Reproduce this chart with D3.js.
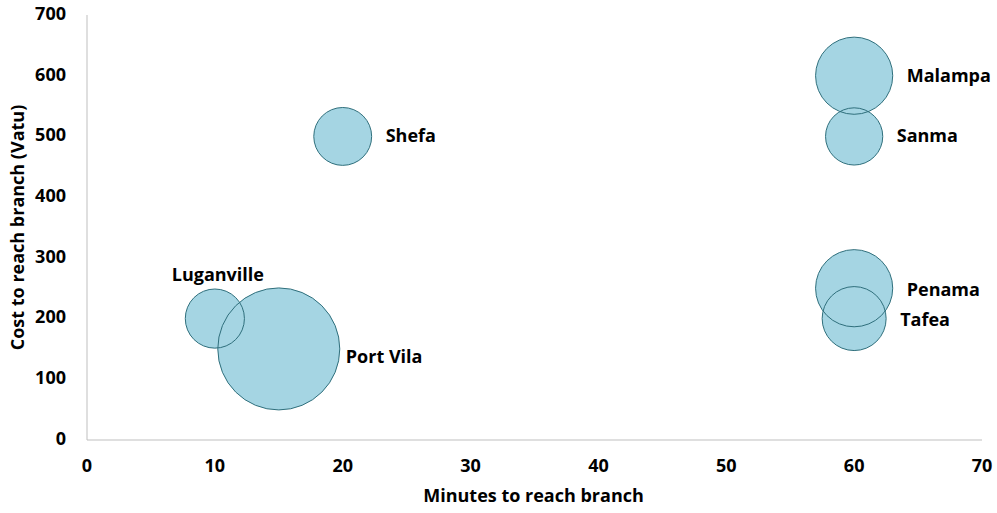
<!DOCTYPE html>
<html>
<head>
<meta charset="utf-8">
<script src="https://cdn.jsdelivr.net/npm/d3@7/dist/d3.min.js"></script>
<style>
  html, body { margin: 0; padding: 0; background: #fff; }
  svg { display: block; }
  text { font-family: "Open Sans", Lato, "Liberation Sans", sans-serif; font-weight: 700; fill: #000; }
</style>
</head>
<body>
<svg id="chart" width="997" height="513"></svg>
<script>
// Branch locations: travel time (minutes), travel cost (Vatu), bubble size
const names   = ["Port Vila", "Luganville", "Shefa", "Malampa", "Sanma", "Penama", "Tafea"];
const minutes = [15, 10, 20, 60, 60, 60, 60];
const cost    = [150, 200, 500, 600, 500, 250, 200];
const sizes   = [100, 23.5, 22.5, 40, 22, 40, 27.5];

const xTicks = [0, 10, 20, 30, 40, 50, 60, 70];
const yTicks = [0, 100, 200, 300, 400, 500, 600, 700];

const xTitle = "Minutes to reach branch";
const yTitle = "Cost to reach branch (Vatu)";

// label placement: "right" of bubble, or "above"
const labelPlacement = {
  "Port Vila":  { side: "right", gap: 6,  dy: 9 },
  "Luganville": { side: "above", gap: 13, dy: 0 },
  "Shefa":      { side: "right", gap: 14, dy: 1 },
  "Malampa":    { side: "right", gap: 14, dy: 1 },
  "Sanma":      { side: "right", gap: 14, dy: 1 },
  "Penama":     { side: "right", gap: 14, dy: 3 },
  "Tafea":      { side: "right", gap: 14, dy: 3 }
};

const data = names.map((n, i) => ({ name: n, x: minutes[i], y: cost[i], s: sizes[i] }));

const svg = d3.select("#chart");
const plotLeft = 87, plotRight = 982, plotTop = 15, plotBottom = 440;
const fontSize = 18;

const x = d3.scaleLinear().domain([0, 70]).range([plotLeft, plotRight]);
const y = d3.scaleLinear().domain([0, 700]).range([plotBottom, plotTop]);
const r = d3.scaleSqrt().domain([0, d3.max(sizes)]).range([0, 61]);

// axis lines
const axisColor = "#bfbfbf";
svg.append("line").attr("x1", plotLeft).attr("x2", plotLeft).attr("y1", plotTop).attr("y2", plotBottom)
  .attr("stroke", axisColor).attr("stroke-width", 1);
svg.append("line").attr("x1", plotLeft).attr("x2", plotRight).attr("y1", plotBottom).attr("y2", plotBottom)
  .attr("stroke", axisColor).attr("stroke-width", 1);

// tick labels
svg.append("g").selectAll("text").data(xTicks).join("text")
  .attr("x", d => x(d)).attr("y", plotBottom + 27)
  .attr("text-anchor", "middle").attr("dominant-baseline", "middle")
  .attr("font-size", fontSize).text(d => d);

svg.append("g").selectAll("text").data(yTicks).join("text")
  .attr("x", plotLeft - 21).attr("y", d => y(d))
  .attr("text-anchor", "end").attr("dominant-baseline", "middle")
  .attr("font-size", fontSize).text(d => d);

// axis titles
svg.append("text").attr("x", (plotLeft + plotRight) / 2 - 1).attr("y", 497)
  .attr("text-anchor", "middle").attr("dominant-baseline", "middle")
  .attr("font-size", fontSize).text(xTitle);

svg.append("text")
  .attr("transform", `translate(19,${(plotTop + plotBottom) / 2}) rotate(-90)`)
  .attr("text-anchor", "middle").attr("dominant-baseline", "middle")
  .attr("font-size", fontSize).text(yTitle);

// bubbles: fills first, then outlines so overlapping edges stay visible
const bubbles = svg.append("g");
bubbles.selectAll("circle.fill").data(data).join("circle")
  .attr("class", "fill")
  .attr("cx", d => x(d.x)).attr("cy", d => y(d.y)).attr("r", d => r(d.s))
  .attr("fill", "#a5d5e3").attr("stroke", "none");
bubbles.selectAll("circle.edge").data(data).join("circle")
  .attr("class", "edge")
  .attr("cx", d => x(d.x)).attr("cy", d => y(d.y)).attr("r", d => r(d.s))
  .attr("fill", "none").attr("stroke", "#2f6f7c").attr("stroke-width", 1);

// data labels
svg.append("g").selectAll("text").data(data).join("text")
  .attr("font-size", fontSize)
  .attr("dominant-baseline", "middle")
  .attr("text-anchor", d => labelPlacement[d.name].side === "above" ? "middle" : "start")
  .attr("x", d => {
    const p = labelPlacement[d.name];
    return p.side === "above" ? x(d.x) + 3 : x(d.x) + r(d.s) + p.gap;
  })
  .attr("y", d => {
    const p = labelPlacement[d.name];
    return p.side === "above" ? y(d.y) - r(d.s) - p.gap : y(d.y) + p.dy;
  })
  .text(d => d.name);
</script>
</body>
</html>
